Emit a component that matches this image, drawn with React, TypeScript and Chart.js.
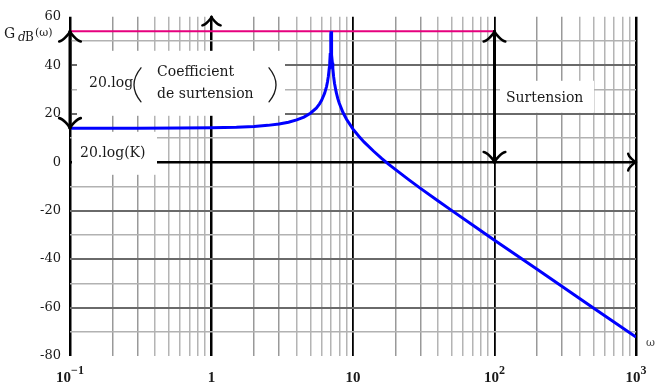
import React, { useEffect, useRef } from 'react';
import { Chart, registerables } from 'chart.js';

Chart.register(...registerables);

// Bode magnitude curve
const omega = [0.1, 0.3, 0.6, 1, 1.5, 2, 2.5, 3, 3.5, 4, 4.5, 5, 5.5, 5.8, 6, 6.3, 6.5, 6.6, 6.7, 6.8, 6.85, 6.9, 6.95, 6.98, 7, 7.02, 7.05, 7.1, 7.15, 7.2, 7.3, 7.4, 7.6, 7.8, 8, 8.5, 9, 10, 11, 12, 14, 16, 18, 20, 25, 30, 40, 50, 70, 100, 200, 500, 1000];
const gainDb = [14.0, 14.02, 14.06, 14.18, 14.41, 14.74, 15.19, 15.76, 16.5, 17.43, 18.63, 20.2, 22.3, 24.08, 25.5, 28.4, 31.2, 33.1, 35.5, 39.0, 41.2, 44.4, 49.2, 52.8, 54.0, 52.7, 49.1, 44.3, 41.0, 38.7, 35.2, 32.6, 29.0, 26.3, 24.3, 20.5, 17.7, 13.65, 10.7, 8.25, 4.5, 1.5, -1.0, -3.1, -7.4, -10.8, -16.0, -20.0, -25.9, -32.2, -44.2, -60.2, -72.2];

// Annotation levels
const resonanceDb = 54;
const staticDb = 14;
const peakLineOmega = [0.1, 100];
const surtensionOmega = 100;

// Axes
const xMin = 0.1;
const xMax = 1000;
const yMin = -80;
const yMax = 60;
const yStep = 10;
const yLabelStep = 20;
const xDecades = [0.1, 1, 10, 100, 1000];
const xDecadeBase = ['10', '1', '10', '10', '10'];
const xDecadeExp = ['\u22121', '', '', '2', '3'];
const mantissas = [1, 2, 3, 4, 5, 6, 7, 8, 9];

const SERIF = '"DejaVu Serif", serif';
const BOLDSERIF = '"Liberation Serif", "DejaVu Serif", serif';

const xGrid: number[] = [];
const xGridMant: number[] = [];
for (let i = 0; i < xDecades.length - 1; i++) {
  for (const m of mantissas) {
    xGrid.push(+(xDecades[i] * m).toPrecision(6));
    xGridMant.push(m);
  }
}
xGrid.push(xDecades[xDecades.length - 1]);
xGridMant.push(1);

function arrowHead(ctx: CanvasRenderingContext2D, x: number, y: number, dir: string, s: number) {
  const P = (f: number, sd: number): [number, number] => {
    if (dir === 'up') return [x + sd * s, y - (f - 0.75) * s];
    if (dir === 'down') return [x + sd * s, y + (f - 0.75) * s];
    return [x + (f - 0.75) * s, y + sd * s];
  };
  for (const sg of [1, -1]) {
    const a = P(-3, 4 * sg), c1 = P(-2.75, 2.5 * sg), c2 = P(0, 0.25 * sg), e = P(0.75, 0);
    ctx.beginPath();
    ctx.moveTo(a[0], a[1]);
    ctx.bezierCurveTo(c1[0], c1[1], c2[0], c2[1], e[0], e[1]);
    ctx.stroke();
  }
}

const annotPlugin = {
  id: 'annot',
  beforeDatasetsDraw(chart: any) {
    const ctx = chart.ctx as CanvasRenderingContext2D;
    const { left: L, top: T } = chart.chartArea;
    ctx.save();
    ctx.fillStyle = '#ffffff';
    ctx.fillRect(L + 7, T + 34, 208, 65);
    ctx.fillRect(L + 2, T + 115, 85, 43);
    ctx.fillRect(L + 430, T + 64, 94, 32);
    ctx.restore();
  },
  afterDraw(chart: any) {
    const ctx = chart.ctx as CanvasRenderingContext2D;
    const xs = chart.scales.x, ys = chart.scales.y;
    const { left: L, top: T } = chart.chartArea;
    ctx.save();
    ctx.strokeStyle = '#000';
    ctx.lineCap = 'round';
    ctx.lineJoin = 'round';

    // double arrow on the left (static gain -> resonance)
    const xl = xs.getPixelForValue(xMin);
    ctx.lineWidth = 3;
    ctx.beginPath();
    ctx.moveTo(xl, ys.getPixelForValue(resonanceDb));
    ctx.lineTo(xl, ys.getPixelForValue(staticDb));
    ctx.stroke();
    ctx.lineWidth = 2.6;
    arrowHead(ctx, xl, ys.getPixelForValue(resonanceDb), 'up', 2.7);
    arrowHead(ctx, xl, ys.getPixelForValue(staticDb), 'down', 2.7);

    // double arrow "Surtension"
    const xr = xs.getPixelForValue(surtensionOmega);
    ctx.lineWidth = 3;
    ctx.beginPath();
    ctx.moveTo(xr, ys.getPixelForValue(resonanceDb));
    ctx.lineTo(xr, ys.getPixelForValue(0));
    ctx.stroke();
    ctx.lineWidth = 2.6;
    arrowHead(ctx, xr, ys.getPixelForValue(resonanceDb), 'up', 2.7);
    arrowHead(ctx, xr, ys.getPixelForValue(0), 'down', 2.7);

    // axis arrows
    ctx.lineWidth = 2.4;
    arrowHead(ctx, xs.getPixelForValue(1), ys.getPixelForValue(yMax), 'up', 2.3);
    arrowHead(ctx, xs.getPixelForValue(xMax), ys.getPixelForValue(0), 'right', 2.1);

    // annotation texts
    ctx.fillStyle = '#1a1a1a';
    ctx.textBaseline = 'alphabetic';
    ctx.textAlign = 'left';
    ctx.font = `14px ${SERIF}`;
    ctx.fillText('20.log', L + 19, T + 70);
    ctx.fillText('Coefficient', L + 87, T + 59);
    ctx.fillText('de surtension', L + 87, T + 81.5);
    ctx.fillText('20.log(K)', L + 10, T + 140.5);
    ctx.fillText('Surtension', L + 436, T + 85.5);

    // big parentheses
    ctx.lineWidth = 1.3;
    ctx.strokeStyle = '#1a1a1a';
    ctx.beginPath();
    ctx.moveTo(L + 71, T + 51);
    ctx.quadraticCurveTo(L + 57, T + 68, L + 71, T + 85);
    ctx.stroke();
    ctx.beginPath();
    ctx.moveTo(L + 199, T + 51);
    ctx.quadraticCurveTo(L + 213, T + 68, L + 199, T + 85);
    ctx.stroke();

    // y axis title G_dB(ω)
    ctx.font = `14px ${SERIF}`;
    ctx.fillText('G', 4, 38);
    ctx.font = `italic 12px ${SERIF}`;
    ctx.fillText('d', 18, 41);
    ctx.font = `12px ${SERIF}`;
    ctx.fillText('B', 25, 41);
    ctx.font = `11px ${SERIF}`;
    ctx.fillText('(\u03c9)', 35, 36);

    // x axis title
    ctx.fillStyle = '#444';
    ctx.font = `11px ${SERIF}`;
    ctx.fillText('\u03c9', 646, 346);

    // x decade labels
    ctx.fillStyle = '#1a1a1a';
    for (let i = 0; i < xDecades.length; i++) {
      const x = xs.getPixelForValue(xDecades[i]);
      ctx.font = `bold 15px ${BOLDSERIF}`;
      const wb = ctx.measureText(xDecadeBase[i]).width;
      ctx.font = `bold 12px ${BOLDSERIF}`;
      const we = xDecadeExp[i] ? ctx.measureText(xDecadeExp[i]).width : 0;
      const start = x - (wb + we) / 2;
      ctx.font = `bold 15px ${BOLDSERIF}`;
      ctx.fillText(xDecadeBase[i], start, 382);
      if (xDecadeExp[i]) {
        ctx.font = `bold 12px ${BOLDSERIF}`;
        ctx.fillText(xDecadeExp[i], start + wb, 374);
      }
    }
    ctx.restore();
  },
};

export default function App() {
  const ref = useRef<HTMLCanvasElement>(null);
  useEffect(() => {
    if (!ref.current) return;
    const chart = new Chart(ref.current, {
      type: 'line',
      data: {
        datasets: [
          {
            data: omega.map((w, i) => ({ x: w, y: gainDb[i] })),
            borderColor: '#0000ff',
            borderWidth: 3,
            pointRadius: 0,
            tension: 0,
            order: 1,
          },
          {
            data: peakLineOmega.map((w) => ({ x: w, y: resonanceDb })),
            borderColor: '#e6007e',
            borderWidth: 2,
            pointRadius: 0,
            order: 2,
          },
        ],
      },
      options: {
        animation: false,
        responsive: false,
        devicePixelRatio: 1,
        layout: { padding: { top: 16, right: 19, left: 0, bottom: 0 } },
        plugins: { legend: { display: false }, tooltip: { enabled: false } },
        scales: {
          x: {
            type: 'logarithmic',
            min: xMin,
            max: xMax,
            afterBuildTicks: (s: any) => {
              s.ticks = xGrid.map((v) => ({ value: v }));
            },
            afterFit: (s: any) => {
              s.height = 29;
            },
            ticks: { display: false },
            border: { display: false },
            grid: {
              drawTicks: false,
              color: (c: any) => {
                const m = xGridMant[c.index];
                if (m === 1) return '#000000';
                return m <= 3 ? '#999999' : '#b4b4b4';
              },
              lineWidth: (c: any) => {
                const m = xGridMant[c.index];
                const v = xGrid[c.index];
                if (m === 1) return v === 1 || v === xMin || v === xMax ? 2.5 : 1.8;
                return 1.5;
              },
            },
          },
          y: {
            min: yMin,
            max: yMax,
            afterFit: (s: any) => {
              s.width = 70;
            },
            border: { display: false },
            ticks: {
              stepSize: yStep,
              autoSkip: false,
              padding: 9,
              color: '#1a1a1a',
              font: { family: '"DejaVu Serif", serif', size: 13 },
              callback: (v: any) => (Number(v) % yLabelStep === 0 ? String(v) : ''),
            },
            grid: {
              drawTicks: false,
              color: (c: any) => {
                const v = c.tick.value;
                if (v === yMin || v === yMax) return 'rgba(0,0,0,0)';
                if (v === 0) return '#000000';
                return v % yLabelStep === 0 ? '#6a6a6a' : '#b2b2b2';
              },
              lineWidth: (c: any) => {
                const v = c.tick.value;
                if (v === 0) return 2.5;
                return v % yLabelStep === 0 ? 2 : 1.6;
              },
            },
          },
        },
      },
      plugins: [annotPlugin],
    } as any);
    return () => chart.destroy();
  }, []);
  return (
    <div style={{ position: 'fixed', left: 0, top: 0, width: 655, height: 385, background: '#fff' }}>
      <canvas ref={ref} width={655} height={385} style={{ display: 'block', width: 655, height: 385 }} />
    </div>
  );
}
